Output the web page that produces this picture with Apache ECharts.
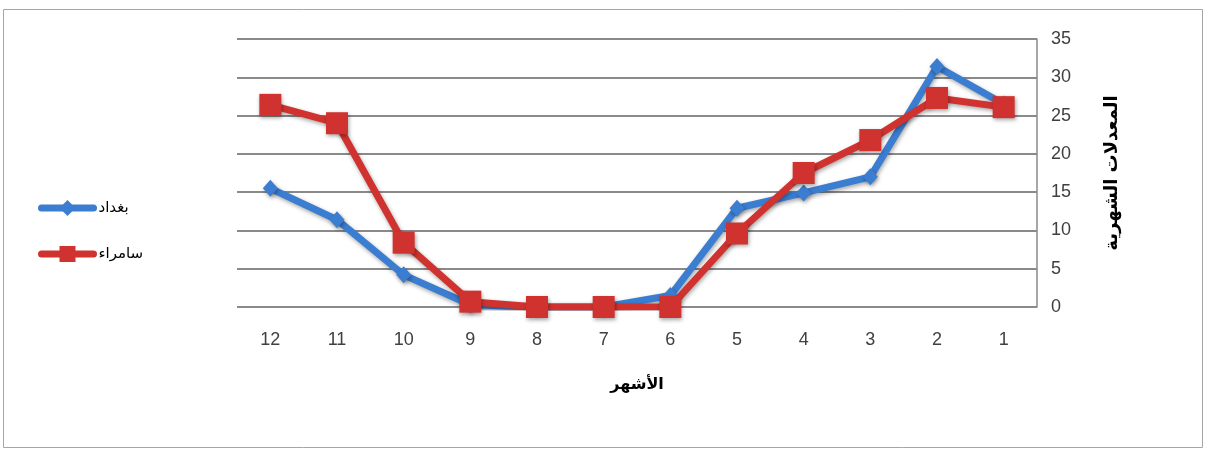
<!DOCTYPE html>
<html>
<head>
<meta charset="utf-8">
<script src="https://cdn.jsdelivr.net/npm/echarts@6/dist/echarts.min.js"></script>
<style>
  html, body { margin: 0; padding: 0; background: #fff; }
  #chart { width: 1207px; height: 451px; }
</style>
</head>
<body>
<div id="chart"></div>
<script>
// Months (shown right-to-left on the category axis)
const months = ['1', '2', '3', '4', '5', '6', '7', '8', '9', '10', '11', '12'];
// Monthly averages per station
const baghdad = [26.5, 31.4, 17.0, 14.9, 12.9, 1.5, 0, 0, 0.3, 4.2, 11.4, 15.5];
const samarra = [26.1, 27.3, 21.8, 17.5, 9.6, 0, 0, 0, 0.7, 8.4, 24.0, 26.4];
const seriesNames = ['بغداد', 'سامراء'];
const yTicks = { min: 0, max: 35, interval: 5 };

const arabicFont = 'DejaVu Sans';
const numFont = 'Liberation Sans';

const chart = echarts.init(document.getElementById('chart'), null, { renderer: 'canvas' });

const shadow = { shadowBlur: 4, shadowColor: 'rgba(0,0,0,0.35)', shadowOffsetX: 1, shadowOffsetY: 2 };

chart.setOption({
  animation: false,
  backgroundColor: '#ffffff',
  graphic: [{
    type: 'rect',
    shape: { x: 3.5, y: 9.5, width: 1199, height: 438 },
    style: { fill: 'none', stroke: '#a6a6a6', lineWidth: 1 },
    z: -1
  }],
  grid: { left: 237, right: 170, top: 39, bottom: 144 },
  legend: {
    orient: 'vertical',
    left: 33,
    top: 195,
    itemWidth: 52,
    itemHeight: 20,
    itemGap: 30,
    lineStyle: { width: 7, cap: 'round' },
    textStyle: { fontFamily: arabicFont, fontSize: 15, color: '#000' },
    data: seriesNames
  },
  xAxis: {
    type: 'category',
    data: months,
    inverse: true,
    boundaryGap: true,
    axisLine: { show: false },
    axisTick: { show: false },
    axisLabel: { fontFamily: numFont, fontSize: 18, color: '#404040', margin: 24 },
    name: 'الأشهر',
    nameLocation: 'middle',
    nameGap: 70,
    nameTextStyle: { fontFamily: arabicFont, fontSize: 16, fontWeight: 'bold', color: '#000' }
  },
  yAxis: {
    type: 'value',
    position: 'right',
    min: yTicks.min,
    max: yTicks.max,
    interval: yTicks.interval,
    axisLine: { show: true, lineStyle: { color: '#8a8a8a', width: 1.5 } },
    axisTick: { show: false },
    axisLabel: { fontFamily: numFont, fontSize: 18, color: '#404040', margin: 14, align: 'left' },
    splitLine: { lineStyle: { color: '#8a8a8a', width: 2 } },
    name: 'المعدلات الشهرية',
    nameLocation: 'middle',
    nameRotate: 90,
    nameGap: 66,
    nameTextStyle: { fontFamily: arabicFont, fontSize: 18, fontWeight: 'bold', color: '#000' }
  },
  series: [
    {
      name: seriesNames[0],
      type: 'line',
      data: baghdad,
      symbol: 'diamond',
      symbolSize: [15, 17],
      lineStyle: Object.assign({ color: '#3b7dd0', width: 7 }, shadow),
      itemStyle: Object.assign({ color: '#3b7dd0' }, shadow),
      z: 2
    },
    {
      name: seriesNames[1],
      type: 'line',
      data: samarra,
      symbol: 'rect',
      symbolSize: 22,
      lineStyle: Object.assign({ color: '#d0322f', width: 7 }, shadow),
      itemStyle: Object.assign({ color: '#d0322f' }, shadow),
      z: 3
    }
  ]
});
</script>
</body>
</html>
